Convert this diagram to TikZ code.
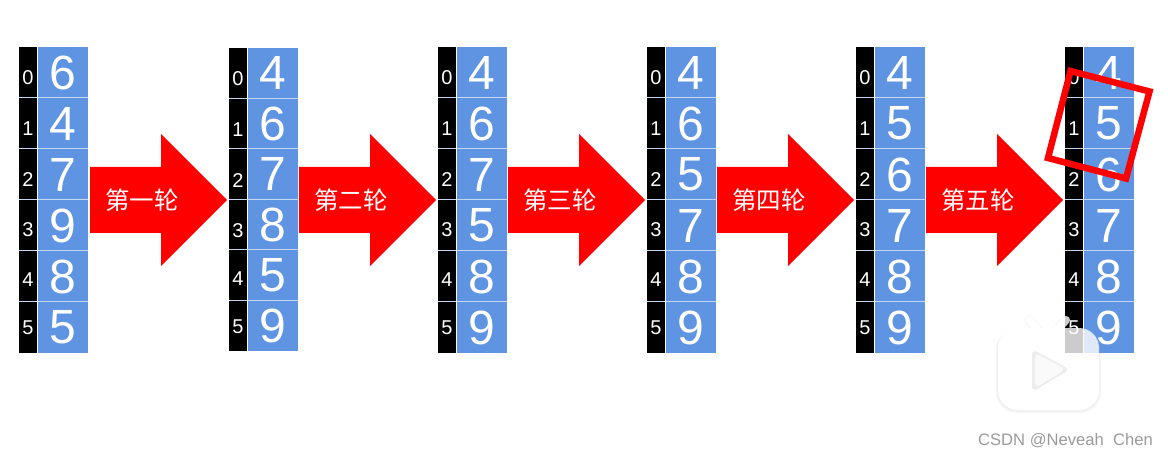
\documentclass[tikz,border=0pt]{standalone}
\usepackage{fontspec}
\setmainfont{Liberation Sans}
\newfontfamily\cjk{Noto Sans CJK SC}
\usetikzlibrary{calc}
\definecolor{cellblue}{HTML}{5F94E2}
\definecolor{seam}{HTML}{C4D6F0}
\definecolor{wm}{HTML}{9A9A9A}
\tikzset{
  indexcell/.style={fill=black,draw=none,inner sep=0pt},
  indexlabel/.style={inner sep=0pt,text=white,font=\fontsize{20}{20}\selectfont},
  valuecell/.style={fill=cellblue,draw=none,inner sep=0pt,text=white,font=\fontsize{48}{48}\selectfont},
  seamline/.style={draw=seam,line width=1pt},
  bigarrow/.style={fill=red,draw=none},
  arrowlabel/.style={text=white,font=\cjk\fontsize{24.5}{25}\selectfont,inner sep=0pt},
  marker/.style={draw=red,line width=6.5pt,line join=miter},
  logo/.style={fill=white,fill opacity=.8,draw=none,rounded corners=20pt},
  logosolid/.style={fill=white,draw=none,rounded corners=20pt},
  logoshade/.style={fill=black,opacity=.03,rounded corners=20pt},
  earshade/.style={draw=black,draw opacity=.05,line width=9.5pt,line cap=round},
  logoear/.style={draw=white,line width=8pt,line cap=round},
  logoearveil/.style={draw=white,draw opacity=.8,line width=8pt,line cap=round}
}
\newcommand{\arraycol}[6]{%
  % #1 name, #2 black left, #3 blue left, #4 top, #5 row height, #6 digits
  \foreach \v/\dy [count=\i from 0] in {#6} {
    \pgfmathsetmacro{\yc}{#4+(\i+.5)*#5}
    \pgfmathsetmacro{\yl}{\yc+\dy}
    \pgfmathsetmacro{\xb}{#2+9}
    \pgfmathsetmacro{\xv}{#3+25}
    \node[indexcell,minimum width=18pt,minimum height=#5 pt] (#1i\i) at (\xb,\yc) {};
    \node[indexlabel] (#1l\i) at (\xb,\yl) {\i};
    \node[valuecell,minimum width=50pt,minimum height=#5 pt] (#1v\i) at (\xv,\yc) {\v};
    \ifnum\i>0
      \draw[seamline] (#1i\i.north west) -- (#1i\i.north east);
      \draw[seamline] (#1v\i.north west) -- (#1v\i.north east);
    \fi
  }
}
\newcommand{\roundarrow}[3]{%
  % #1 name, #2 left x, #3 label
  \fill[bigarrow] (#2,167) -- (#2+71,167) -- (#2+71,134) -- (#2+137,200) -- (#2+71,266) -- (#2+71,233) -- (#2,233) -- cycle;
  \node[arrowlabel] (#1) at (#2+52,200) {#3};
}
\begin{document}
\begin{tikzpicture}[x=1pt,y=-1pt]
\useasboundingbox (0,0) rectangle (1168,457);
% watermark logo: soft shadow and white base, beneath the columns
\fill[logoshade] (996,329) rectangle (1101,413);
\fill[logoshade] (997,329) rectangle (1100,411.5);
\draw[earshade] (1029,320) -- (1039,331);
\draw[earshade] (1066,320) -- (1056,331);
\draw[logoear] (1029,320) -- (1039,331);
\draw[logoear] (1066,320) -- (1056,331);
\fill[logosolid] (998,328) rectangle (1099,410);
\arraycol{a}{19}{38}{47}{51}{6/5,4/5,7/5,9/4.5,8/3,5/0}
\arraycol{b}{229}{247.5}{48}{50.5}{4/5,6/5.5,7/6.5,8/6,5/3,9/1}
\arraycol{c}{438}{457}{47}{51}{4/5,6/5,7/5,5/4.5,8/3,9/0}
\arraycol{d}{647}{666}{47}{51}{4/5,6/5,5/5,7/4.5,8/3,9/0}
\arraycol{e}{856}{875}{47}{51}{4/5,5/5,6/5,7/4.5,8/3,9/0}
\arraycol{f}{1065}{1083.5}{47}{51}{4/5,5/5,6/5,7/4.5,8/3,9/0}
\roundarrow{r1}{90}{第一轮}
\roundarrow{r2}{299}{第二轮}
\roundarrow{r3}{508}{第三轮}
\roundarrow{r4}{717}{第四轮}
\roundarrow{r5}{926}{第五轮}
\draw[marker] (1070.5,71) -- (1149.5,91.5) -- (1126,178.5) -- (1048,158) -- cycle;
% translucent logo over the last column
\draw[logoearveil] (1066,320) -- (1056,331);
\fill[logo] (998,328) rectangle (1099,410);
\fill[white!93!black,rounded corners=6pt] (1032,349) -- (1070,369.5) -- (1032,392) -- cycle;
\fill[white!98!black,rounded corners=5pt] (1035,353) -- (1066,369.5) -- (1035,388) -- cycle;
\node[text=wm,font=\fontsize{16.6}{16}\selectfont,inner sep=0pt,anchor=east] (wmk) at (1153,441) {CSDN @Neveah\ \ Chen};
\end{tikzpicture}
\end{document}
